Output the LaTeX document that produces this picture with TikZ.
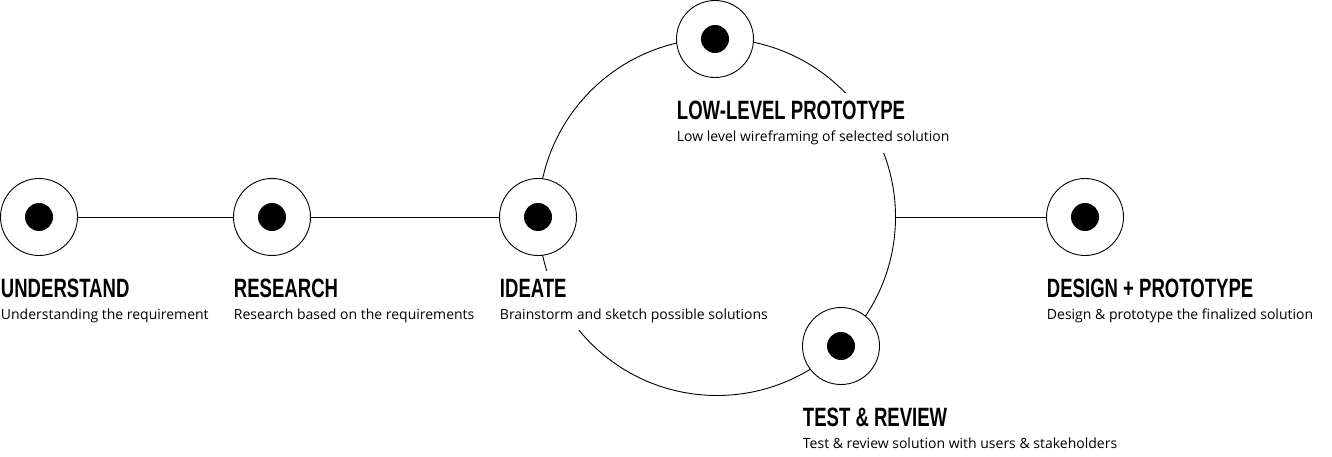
\documentclass[tikz,border=0pt]{standalone}
\usepackage{fontspec}
\setmainfont{Open Sans}
\newfontfamily\headfont[FakeStretch=0.7]{Liberation Sans}
\newcommand{\stagetitle}[1]{{\headfont\bfseries\fontsize{26.5}{22}\selectfont #1}}

\begin{document}
\begin{tikzpicture}[x = 1pt, y = -1pt, line width = 0.9pt,
    stage/.style = {circle, draw, fill = white, minimum size = 77pt, inner sep = 0pt,
      path picture = {\fill[black] (path picture bounding box.center) circle (14pt);}},
    caption/.style = {anchor = north west, fill = white, align = left, inner xsep = 2pt, inner ysep = 8pt,
      font = \fontsize{14}{22}\selectfont, xshift = -40.5pt, yshift = -14.5pt}]
    \useasboundingbox (0,0) rectangle (1332,457);
    % Iteration loop
    \node[circle, draw, minimum size = 357pt, inner sep = 0pt] (loop) at (717,217) {};
    \node[stage] (understand) at (39,217) {};
    \node[stage] (research) at (272,217) {};
    \node[stage] (ideate) at (538,217) {};
    \node[stage] (lowlevel) at (715,39) {};
    \node[stage] (test) at (841,346) {};
    \node[stage] (design) at (1085,217) {};
    \draw (understand) -- (research);
    \draw (research) -- (ideate);
    \draw (loop.east) -- (design);
    % Labels
    \node[caption] (understand-text) at (understand.south) {\stagetitle{UNDERSTAND}\\Understanding the requirement};
    \node[caption] (research-text) at (research.south) {\stagetitle{RESEARCH}\\Research based on the requirements};
    \node[caption] (ideate-text) at (ideate.south) {\stagetitle{IDEATE}\\Brainstorm and sketch possible solutions};
    \node[caption] (lowlevel-text) at (lowlevel.south) {\stagetitle{LOW-LEVEL PROTOTYPE}\\Low level wireframing of selected solution};
    \node[caption] (test-text) at (test.south) {\stagetitle{TEST \& REVIEW}\\Test \& review solution with users \& stakeholders};
    \node[caption] (design-text) at (design.south) {\stagetitle{DESIGN + PROTOTYPE}\\Design \& prototype the finalized solution};
\end{tikzpicture}
\end{document}
